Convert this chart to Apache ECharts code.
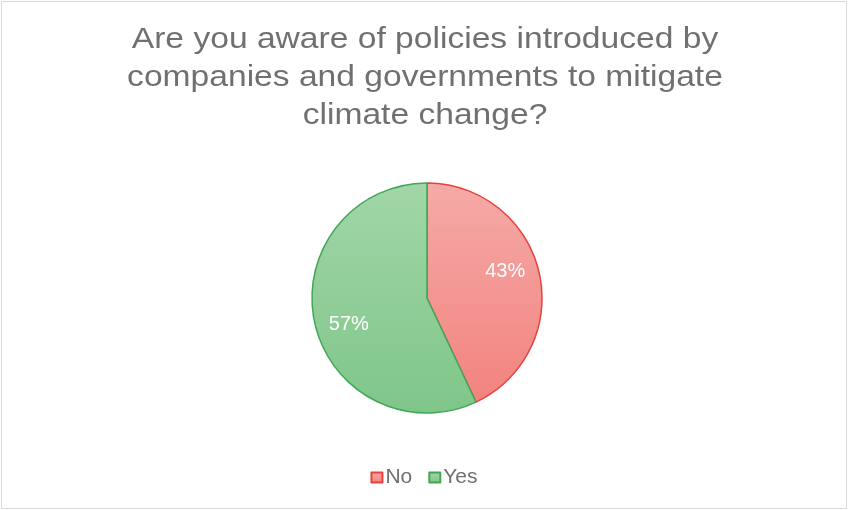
<!DOCTYPE html>
<html>
<head>
<meta charset="utf-8">
<script src="https://cdn.jsdelivr.net/npm/echarts@6/dist/echarts.min.js"></script>
<style>
  html, body { margin: 0; padding: 0; background: #fff; }
  #chart { width: 848px; height: 510px; }
</style>
</head>
<body>
<div id="chart"></div>
<script>
// Survey answers and their shares (percent)
const categories = ['No', 'Yes'];
const shares = [43, 57];
const titleText = 'Are you aware of policies introduced by\ncompanies and governments to mitigate\nclimate change?';

const fills = {
  No:  { top: '#F5AAA7', bottom: '#F2837F', border: '#E8413B' },
  Yes: { top: '#A2D6A8', bottom: '#7FC689', border: '#3EA853' }
};

function grad(c) {
  return new echarts.graphic.LinearGradient(0, 0, 0, 1, [
    { offset: 0, color: c.top },
    { offset: 1, color: c.bottom }
  ]);
}

const pieData = categories.map((name, i) => ({
  name,
  value: shares[i],
  itemStyle: { color: grad(fills[name]), borderColor: fills[name].border, borderWidth: 1.5 }
}));

const labelData = categories.map((name, i) => ({ name, value: shares[i] }));

const chart = echarts.init(document.getElementById('chart'), null, { renderer: 'canvas' });
chart.setOption({
  animation: false,
  backgroundColor: '#fff',
  legend: {
    data: categories,
    bottom: 17,
    left: 'center',
    icon: 'rect',
    itemWidth: 11,
    itemHeight: 10,
    itemGap: 16,
    textStyle: {
      fontFamily: 'Liberation Sans, Arial, sans-serif',
      fontSize: 21,
      color: '#707070',
      padding: [0, 0, 0, -2]
    }
  },
  graphic: [
    {
      type: 'rect',
      shape: { x: 1.5, y: 1.5, width: 845, height: 507 },
      style: { fill: 'none', stroke: '#d9d9d9', lineWidth: 1 },
      silent: true
    },
    {
      // chart title, slightly widened like the office-style heading font
      type: 'text',
      x: 425,
      y: 21,
      scaleX: 1.12,
      originX: 0,
      style: {
        text: titleText,
        fontFamily: 'Liberation Sans, Arial, sans-serif',
        fontSize: 30,
        lineHeight: 38,
        fill: '#707070',
        align: 'center',
        verticalAlign: 'top'
      },
      silent: true
    }
  ],
  series: [
    {
      type: 'pie',
      center: [427, 298],
      radius: 115,
      startAngle: 90,
      clockwise: true,
      label: { show: false },
      labelLine: { show: false },
      emphasis: { disabled: true },
      data: pieData
    },
    {
      // transparent ring that only carries the percentage labels
      type: 'pie',
      center: [427, 298],
      radius: [44, 115],
      startAngle: 96,
      clockwise: true,
      silent: true,
      legendHoverLink: false,
      itemStyle: { color: 'rgba(0,0,0,0)', borderWidth: 0 },
      label: {
        show: true,
        position: 'inside',
        formatter: p => p.value + '%',
        fontFamily: 'Liberation Sans, Arial, sans-serif',
        fontSize: 20,
        color: '#ffffff'
      },
      labelLine: { show: false },
      emphasis: { disabled: true },
      data: labelData
    }
  ]
});
</script>
</body>
</html>
